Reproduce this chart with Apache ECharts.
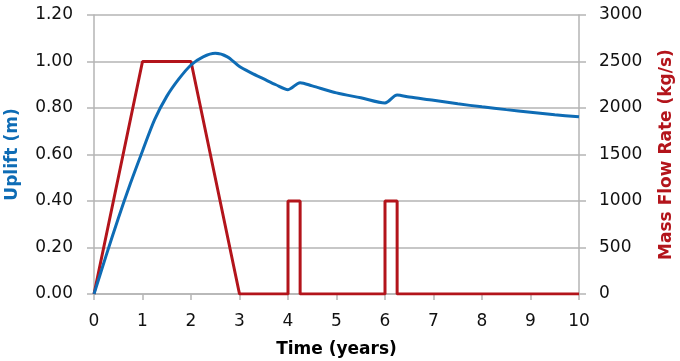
<!DOCTYPE html>
<html>
<head>
<meta charset="utf-8">
<script src="https://cdn.jsdelivr.net/npm/echarts@6/dist/echarts.min.js"></script>
<style>
  html, body { margin: 0; padding: 0; background: #fff; }
  #chart { width: 680px; height: 361px; }
</style>
</head>
<body>
<div id="chart"></div>
<script>
// uplift curve (left axis)
var upliftTime = [0, 0.25, 0.5, 0.75, 1, 1.25, 1.5, 1.75, 2, 2.25, 2.5, 2.75, 3, 3.25, 3.5, 3.75, 4, 4.25, 4.5, 5, 5.5, 6, 6.25, 6.5, 7, 7.5, 8, 8.5, 9, 9.5, 10];
var upliftValues = [0, 0.165, 0.325, 0.475, 0.615, 0.75, 0.85, 0.925, 0.985, 1.02, 1.035, 1.02, 0.978, 0.95, 0.925, 0.9, 0.879, 0.909, 0.895, 0.865, 0.844, 0.822, 0.856, 0.847, 0.833, 0.818, 0.805, 0.793, 0.782, 0.771, 0.762];

// injection rate (right axis)
var flowTime = [0, 1, 2, 3, 4, 4, 4.25, 4.25, 6, 6, 6.25, 6.25, 10];
var flowValues = [0, 2500, 2500, 0, 0, 1000, 1000, 0, 0, 1000, 1000, 0, 0];

var upliftTicks = [0, 0.2, 0.4, 0.6, 0.8, 1.0, 1.2];
var flowTicks = [0, 500, 1000, 1500, 2000, 2500, 3000];

var blue = "#0e6cb5";
var red = "#b3141b";
var gray = "#b5b5b5";
var fontName = "DejaVu Sans";

function pairs(xs, ys) {
  var out = [];
  for (var i = 0; i < xs.length; i++) {
    out.push([xs[i], ys[i]]);
  }
  return out;
}

var myChart = echarts.init(document.getElementById("chart"));
var option = {
  animation: false,
  textStyle: { fontFamily: fontName },
  grid: {
    left: 94,
    right: 101,
    top: 15,
    bottom: 67,
    containLabel: false,
    outerBoundsMode: "none",
  },
  xAxis: {
    type: "value",
    min: 0,
    max: 10,
    interval: 1,
    name: "Time (years)",
    nameLocation: "middle",
    nameGap: 47,
    nameTextStyle: { color: "#000", fontSize: 17, fontWeight: "bold", fontFamily: fontName },
    axisLine: { show: true, lineStyle: { color: gray, width: 1.5 } },
    axisTick: { show: true, length: 6, lineStyle: { color: gray, width: 1.5 } },
    axisLabel: { color: "#111", fontSize: 17, margin: 19, fontFamily: fontName },
    splitLine: { show: false },
  },
  yAxis: [
    {
      type: "value",
      position: "left",
      min: upliftTicks[0],
      max: upliftTicks[upliftTicks.length - 1],
      interval: 0.2,
      name: "Uplift (m)",
      nameLocation: "middle",
      nameGap: 73,
      nameTextStyle: { color: blue, fontSize: 17, fontWeight: "bold", fontFamily: fontName },
      axisLine: { show: true, lineStyle: { color: gray, width: 1.5 } },
      axisTick: { show: true, length: 7, lineStyle: { color: gray, width: 1.5 } },
      axisLabel: {
        color: "#111",
        fontSize: 17,
        margin: 21,
        fontFamily: fontName,
        formatter: function (v) {
          return v.toFixed(2);
        },
      },
      splitLine: { show: true, lineStyle: { color: gray, width: 1.5 } },
    },
    {
      type: "value",
      position: "right",
      min: flowTicks[0],
      max: flowTicks[flowTicks.length - 1],
      interval: 500,
      name: "Mass Flow Rate (kg/s)",
      nameLocation: "middle",
      nameGap: 79,
      nameTextStyle: { color: red, fontSize: 17, fontWeight: "bold", fontFamily: fontName },
      axisLine: { show: true, lineStyle: { color: gray, width: 1.5 } },
      axisTick: { show: true, length: 7, lineStyle: { color: gray, width: 1.5 } },
      axisLabel: {
        color: "#111",
        fontSize: 17,
        margin: 20,
        fontFamily: fontName,
        formatter: function (v) {
          return String(v);
        },
      },
      splitLine: { show: false },
    },
  ],
  series: [
    {
      name: "Mass Flow Rate",
      type: "line",
      yAxisIndex: 1,
      data: pairs(flowTime, flowValues),
      symbol: "none",
      lineStyle: { color: red, width: 3 },
      z: 2,
    },
    {
      name: "Uplift",
      type: "line",
      yAxisIndex: 0,
      data: pairs(upliftTime, upliftValues),
      symbol: "none",
      smooth: 0.3,
      lineStyle: { color: blue, width: 3 },
      z: 3,
    },
  ],
};
myChart.setOption(option);
</script>
</body>
</html>
